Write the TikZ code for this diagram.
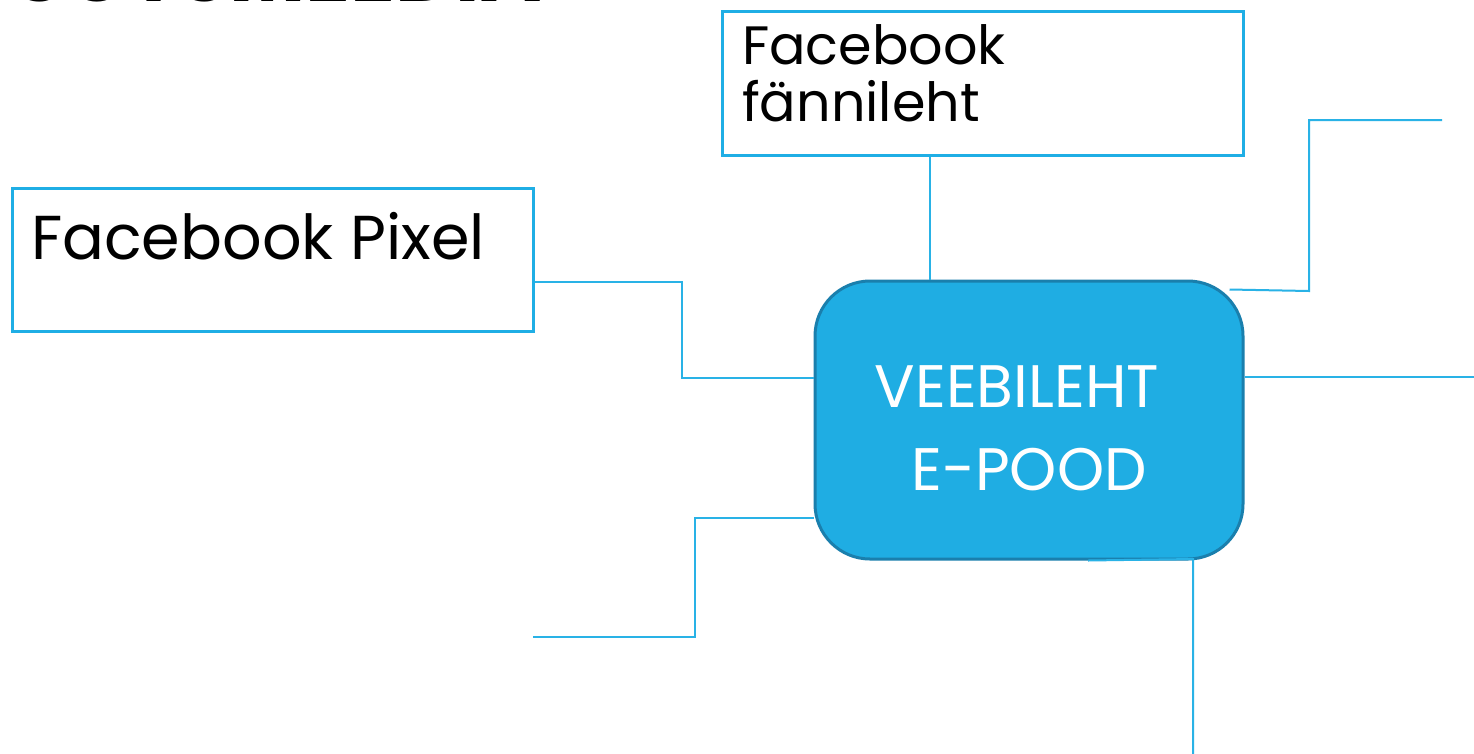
\documentclass[tikz,border=0pt]{standalone}
\usepackage{fontspec}
\setmainfont{Poppins}
\definecolor{cfill}{HTML}{1FADE3}
\definecolor{cedge}{HTML}{1A7FAD}
\definecolor{cline}{HTML}{29B2E6}
\definecolor{bedge}{HTML}{1FAEE5}
\begin{document}
\begin{tikzpicture}[x=1pt,y=-1pt,
  wbox/.style={draw=bedge, line width=3pt, fill=white, anchor=north west, inner sep=0pt},
  cbox/.style={draw=cedge, line width=3pt, fill=cfill, rounded corners=55pt, inner sep=0pt},
  conn/.style={draw=cline, line width=2pt},
  btext/.style={anchor=base west, inner sep=0pt, text=black},
  ctext/.style={anchor=base, inner sep=0pt, text=white, font=\fontsize{60}{60}\selectfont}]
\useasboundingbox (0,0) rectangle (1474,753);
\fill[white] (0,0) rectangle (1474,753);
% title, mostly cut off by page top
\node[anchor=base west, inner sep=0pt, font=\fontsize{83}{83}\selectfont\bfseries] (title) at (13,1) {SOTSMEEDIA};
% boxes
\node[wbox, minimum width=521pt, minimum height=144pt] (fan) at (721,10) {};
\node[wbox, minimum width=521pt, minimum height=143pt] (pix) at (11,187) {};
\node[cbox, minimum width=428pt, minimum height=278pt] (web) at (1029,420) {};
% texts
\node[btext, font=\fontsize{54}{54}\selectfont] (t1) at (742,64) {Facebook};
\node[btext, font=\fontsize{54}{54}\selectfont] (t2) at (742,121) {fännileht};
\node[btext, font=\fontsize{62}{62}\selectfont] (t3) at (31,259) {Facebook Pixel};
\node[ctext] (t4) at (1017,407) {VEEBILEHT};
\node[ctext] (t5) at (1029,490) {E-POOD};
% free ends
\coordinate (e3) at (533,637);
\coordinate (e4) at (1442,120);
\coordinate (e5) at (1476,377);
\coordinate (e6) at (1193,756);
% connectors
\draw[conn] (fan.south -| 930,0) -- (web.north -| 930,0);
\draw[conn] (pix.east |- 0,282) -- (682,282) |- (web.west |- 0,378);
\draw[conn] (web.west |- 0,518) -- (695,518) |- (e3);
\draw[conn] ([xshift=-15pt,yshift=-10pt]web.north east) -- (1309,291) |- (e4);
\draw[conn] (web.east |- e5) -- (e5);
\draw[conn] ([xshift=59pt]web.south) -- (1193,559) -- (e6);
\end{tikzpicture}
\end{document}
